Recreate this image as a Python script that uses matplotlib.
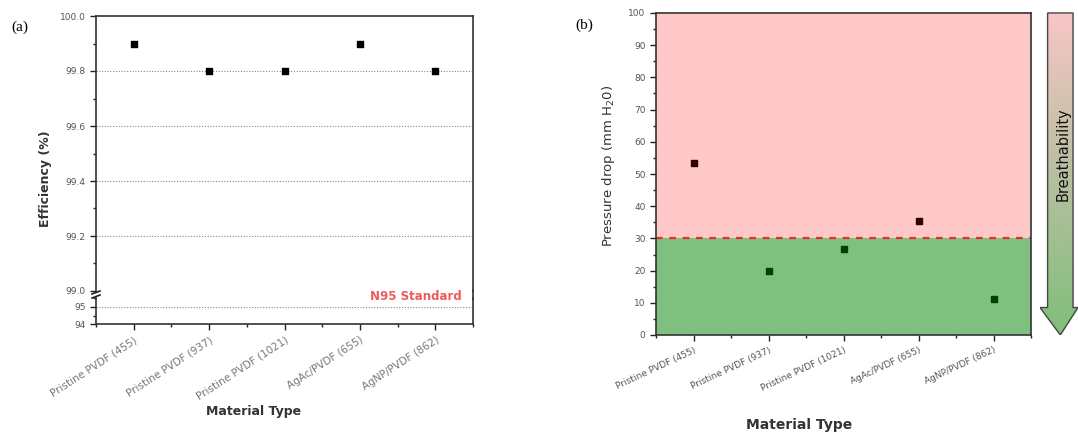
import numpy as np
import matplotlib
matplotlib.use("Agg")
import matplotlib.pyplot as plt
from matplotlib.patches import Polygon
from matplotlib.ticker import MultipleLocator, FormatStrFormatter
from matplotlib.colors import LinearSegmentedColormap

# data
materials = ["Pristine PVDF (455)", "Pristine PVDF (937)", "Pristine PVDF (1021)",
             "AgAc/PVDF (655)", "AgNP/PVDF (862)"]
efficiency = [99.9, 99.8, 99.8, 99.9, 99.8]
pressure_drop = [53.5, 20.0, 26.8, 35.5, 11.1]
n95_level = 95
breath_limit = 30

W, H = 1078, 437
fig = plt.figure(figsize=(W / 100, H / 100), dpi=100)
plt.rcParams['font.family'] = ['DejaVu Sans']

def box(l, t, r, b):
    # pixel box -> figure fraction
    return [l / W, 1 - b / H, (r - l) / W, (b - t) / H]

tick_gray = "#555555"
lab_gray = "#333333"
x = np.arange(1, len(materials) + 1)

# ---------------- panel (a) ----------------
ax_top = fig.add_axes(box(96, 16, 473, 291))
ax_bot = fig.add_axes(box(96, 298, 473, 324.3))

for a in (ax_top, ax_bot):
    a.set_xlim(0.5, 5.5)
    a.xaxis.set_major_locator(MultipleLocator(1))
    a.xaxis.set_minor_locator(MultipleLocator(0.5))
    a.tick_params(which="both", direction="out", colors=tick_gray, labelsize=6.5)
    a.tick_params(which="major", length=4, width=1, color="#222222")
    a.tick_params(which="minor", length=2.5, width=1, color="#222222")
    for s in a.spines.values():
        s.set_color("#333333")
        s.set_linewidth(1.2)
    a.scatter(x, efficiency, marker="s", s=22, color="black", zorder=3)

ax_top.set_ylim(99.0, 100.0)
ax_top.yaxis.set_major_locator(MultipleLocator(0.2))
ax_top.yaxis.set_minor_locator(MultipleLocator(0.1))
ax_top.yaxis.set_major_formatter(FormatStrFormatter("%.1f"))
ax_top.spines["bottom"].set_visible(False)
ax_top.tick_params(axis="x", which="both", bottom=False, labelbottom=False)
for v in [99.2, 99.4, 99.6, 99.8]:
    ax_top.axhline(v, color="#888888", lw=0.8, ls=(0, (1, 1.5)), zorder=1)

ax_bot.set_ylim(94, 95.5)
ax_bot.set_yticks([94, 95])
ax_bot.yaxis.set_minor_locator(MultipleLocator(0.5))
ax_bot.yaxis.set_major_formatter(FormatStrFormatter("%d"))
ax_bot.spines["top"].set_visible(False)
ax_bot.axhline(n95_level, color="#888888", lw=0.8, ls=(0, (1, 1.5)), zorder=1)
ax_bot.set_xticks(x)
ax_bot.set_xticklabels(materials, rotation=33, ha="right", rotation_mode="anchor",
                       fontsize=7.5, color="#777777")
ax_bot.set_xlabel("Material Type", fontsize=9, fontweight="bold", color=lab_gray)
ax_bot.xaxis.set_label_coords(0.419, -3.07)

# right spine runs through the break
fig.add_artist(plt.Line2D([473 / W, 473 / W], [1 - 290 / H, 1 - 299 / H],
                          color="#333333", lw=1.2))
# break marks on the left spine
for yy in (292.5, 296.5):
    fig.add_artist(plt.Line2D([92 / W, 100 / W], [1 - (yy + 1.5) / H, 1 - (yy - 1.5) / H],
                              color="#222222", lw=1.2))

fig.text(45 / W, 1 - 179 / H, "Efficiency (%)", rotation=90, ha="center", va="center",
         fontsize=9, fontweight="bold", color=lab_gray)
fig.text(462 / W, 1 - 297 / H, "N95 Standard", color="#f05a5a", fontsize=8.5,
         fontweight="bold", ha="right", va="center")
fig.text(20 / W, 1 - 27 / H, "(a)", fontsize=11, family="Liberation Serif",
         ha="center", va="center")

# ---------------- panel (b) ----------------
axb = fig.add_axes(box(656, 13, 1031, 335))
axb.set_xlim(0.5, 5.5)
axb.set_ylim(0, 100)
axb.scatter(x, pressure_drop, marker="s", s=20, color="black", zorder=2)
axb.axhspan(breath_limit, 100, color="#ff0000", alpha=0.21, lw=0, zorder=3)
axb.axhspan(0, breath_limit, color="#008000", alpha=0.5, lw=0, zorder=3)
axb.axhline(breath_limit, color="#e03030", lw=1.6, ls=(0, (3, 3)), zorder=4)
axb.yaxis.set_major_locator(MultipleLocator(10))
axb.yaxis.set_minor_locator(MultipleLocator(5))
axb.xaxis.set_minor_locator(MultipleLocator(0.5))
axb.set_xticks(x)
axb.set_xticklabels(materials, rotation=25, ha="right", rotation_mode="anchor",
                    fontsize=7.8, color="#777777")
axb.tick_params(which="both", direction="out", colors=tick_gray, labelsize=6.5)
axb.tick_params(which="major", length=4, width=1, color="#222222")
axb.tick_params(which="minor", length=2.5, width=1, color="#222222")
for s in axb.spines.values():
    s.set_color("#333333")
    s.set_linewidth(1.2)
    s.set_zorder(5)
axb.set_xlabel("Material Type", fontsize=10, fontweight="bold", color=lab_gray)
axb.xaxis.set_label_coords(0.381, -0.258)
axb.set_ylabel("Pressure drop (mm H$_2$0)", fontsize=9.5, color=lab_gray)
axb.yaxis.set_label_coords(-0.104, 0.525)
fig.text(584 / W, 1 - 25 / H, "(b)", fontsize=11, family="Liberation Serif",
         ha="center", va="center")

# breathability arrow with gradient fill
axa = fig.add_axes(box(1040, 12, 1078, 335))
axa.set_xlim(0, 1)
axa.set_ylim(0, 1)
axa.axis("off")
cmap = LinearSegmentedColormap.from_list("br", ["#7fbf7a", "#b8bfa0", "#f8c6c6"])
grad = np.linspace(0, 1, 256).reshape(-1, 1)
img = axa.imshow(grad, extent=[0, 1, 0, 1], origin="lower", cmap=cmap, aspect="auto")
head = 0.085
arrow = Polygon([(0.2, 0.997), (0.87, 0.997), (0.87, head), (1.0, head),
                 (0.535, 0.0), (0.0, head), (0.2, head)], closed=True,
                fill=False, ec="#444444", lw=1.0, transform=axa.transData)
axa.add_patch(arrow)
img.set_clip_path(arrow)
axa.text(0.6, 0.56, "Breathability", rotation=90, ha="center", va="center",
         fontsize=10.5, color="#111111")

fig.savefig("out.png", dpi=100)
